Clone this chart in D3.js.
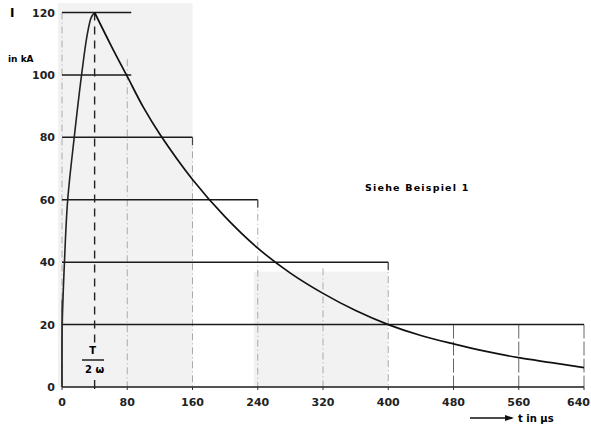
<!DOCTYPE html>
<html><head><meta charset="utf-8">
<script src="https://cdn.jsdelivr.net/npm/d3@7"></script>
<style>body{margin:0;background:#fff}svg{display:block}text{font-family:"DejaVu Sans",sans-serif}</style>
</head><body><svg id="c" width="591" height="424"></svg>
<script>
// ---- data ----
const xTicks = [0, 80, 160, 240, 320, 400, 480, 560, 640];
const yTicks = [0, 20, 40, 60, 80, 100, 120];
const riseX = [0, 0.3, 3, 7, 15, 24, 31, 36, 40];
const riseY = [0, 20, 40, 60, 80, 100, 113, 118.5, 120];
const decayX = [40, 60, 80, 100, 120, 160, 200, 240, 280, 320, 360, 400, 440, 480, 520, 560, 600, 640];
const decayY = [120, 109.5, 99.5, 89.5, 81, 66.5, 54.5, 44.5, 36.5, 30, 24.5, 20, 16.5, 13.8, 11.4, 9.4, 7.8, 6.2];
// horizontal reference lines: level and end (time)
const hLevels = [120, 100, 80, 60, 40, 20, 0];
const hEnds = [80, 80, 160, 240, 400, 640, 640];
// vertical dash-dot lines: time and top level
const vTimes = [0, 80, 160, 240, 320, 400, 480, 560, 640];
const vTops = [120, 105, 80, 60, 38, 40, 20, 20, 20];
// shaded blocks
const shadeX0 = [0, 240];
const shadeX1 = [160, 400];
const shadeTop = [123, 37];
const peakT = 40;

const svg = d3.select("#c");
const x = d3.scaleLinear().domain([0, 640]).range([62, 584]);
const y = d3.scaleLinear().domain([0, 120]).range([387, 12.5]);

// shading
svg.selectAll("rect.sh").data(shadeX0).join("rect")
  .attr("x", (d) => x(d) - 4).attr("width", (d, i) => x(shadeX1[i]) - x(d) + 4)
  .attr("y", (d, i) => y(shadeTop[i])).attr("height", (d, i) => y(0) - y(shadeTop[i]))
  .attr("fill", "#f2f2f2");

// vertical dash-dot lines
svg.selectAll("line.v").data(vTimes).join("line")
  .attr("x1", (d) => x(d)).attr("x2", (d) => x(d))
  .attr("y1", (d, i) => y(vTops[i])).attr("y2", y(0))
  .attr("stroke", (d) => d >= 480 ? "#666" : "#aaa").attr("stroke-width", 1)
  .attr("stroke-dasharray", (d) => d >= 480 ? "14,3" : "7,3,1,3");

// horizontal lines
svg.selectAll("line.h").data(hLevels).join("line")
  .attr("x1", x(0)).attr("x2", (d, i) => x(hEnds[i]) + (hEnds[i] === 80 ? 4 : 0))
  .attr("y1", (d) => y(d)).attr("y2", (d) => y(d))
  .attr("stroke", "#1a1a1a").attr("stroke-width", 1.5);

// end ticks on some horizontal lines
svg.selectAll("line.et").data(hLevels.filter((d, i) => hEnds[i] > 80 && hEnds[i] < 640)).join("line")
  .attr("x1", (d) => x(hEnds[hLevels.indexOf(d)])).attr("x2", (d) => x(hEnds[hLevels.indexOf(d)]))
  .attr("y1", (d) => y(d)).attr("y2", (d) => y(d) + 8)
  .attr("stroke", "#444").attr("stroke-width", 1.2);

// dashed peak line
const labTop = 343, labBot = 376;
svg.append("line").attr("x1", x(peakT)).attr("x2", x(peakT))
  .attr("y1", y(120)).attr("y2", labTop)
  .attr("stroke", "#222").attr("stroke-width", 1.4).attr("stroke-dasharray", "8,6");
svg.append("line").attr("x1", x(peakT)).attr("x2", x(peakT))
  .attr("y1", labBot + 4).attr("y2", y(0) + 2)
  .attr("stroke", "#222").attr("stroke-width", 1.4);

// curve
const line = d3.line().x((d) => x(d[0])).y((d) => y(d[1])).curve(d3.curveCatmullRom.alpha(0.5));
svg.append("path").datum(d3.zip(riseX, riseY)).attr("d", line)
  .attr("fill", "none").attr("stroke", "#222").attr("stroke-width", 1.6);
svg.append("path").datum(d3.zip(decayX, decayY)).attr("d", line)
  .attr("fill", "none").attr("stroke", "#111").attr("stroke-width", 1.7);

// left edge black segment
svg.append("line").attr("x1", x(0)).attr("x2", x(0)).attr("y1", y(0)).attr("y2", y(28))
  .attr("stroke", "#333").attr("stroke-width", 1.2);

// y tick labels
svg.selectAll("text.yt").data(yTicks).join("text")
  .attr("x", 55).attr("y", (d) => y(d) + 4).attr("text-anchor", "end")
  .attr("font-size", 11).attr("font-weight", "bold").attr("fill", "#222").text((d) => d);
// x tick labels
svg.selectAll("text.xt").data(xTicks).join("text")
  .attr("x", (d) => d === 640 ? 590 : x(d)).attr("y", 406)
  .attr("text-anchor", (d) => d === 640 ? "end" : "middle")
  .attr("font-size", 11).attr("font-weight", "bold").attr("fill", "#222").text((d) => d);
// small ticks below axis
svg.selectAll("line.xt").data(xTicks).join("line")
  .attr("x1", (d) => x(d)).attr("x2", (d) => x(d)).attr("y1", y(0)).attr("y2", y(0) + 3)
  .attr("stroke", "#333");

// axis titles
svg.append("text").attr("x", 10).attr("y", 17).attr("font-size", 12).attr("font-weight", "bold").text("I");
svg.append("text").attr("x", 8).attr("y", 62).attr("font-size", 9).attr("font-weight", "bold").text("in kA");
svg.append("line").attr("x1", 470).attr("x2", 512).attr("y1", 418).attr("y2", 418)
  .attr("stroke", "#111").attr("stroke-width", 1.6);
svg.append("path").attr("d", "M505,415 L514,418 L505,421 Z").attr("fill", "#111");
svg.append("text").attr("x", 518).attr("y", 422).attr("font-size", 10).attr("font-weight", "bold").text("t in µs");

// fraction label at peak time
svg.append("text").attr("x", x(peakT) - 2).attr("y", 354).attr("text-anchor", "middle")
  .attr("font-size", 10).attr("font-weight", "bold").text("T");
svg.append("line").attr("x1", 82).attr("x2", 104).attr("y1", 360).attr("y2", 360)
  .attr("stroke", "#111").attr("stroke-width", 1.4);
svg.append("text").attr("x", x(peakT)).attr("y", 373).attr("text-anchor", "middle")
  .attr("font-size", 10).attr("font-weight", "bold").text("2 ω");

// note
svg.append("text").attr("x", 365).attr("y", 191).attr("font-size", 9.5).attr("font-weight", "bold")
  .attr("letter-spacing", 1.2).text("Siehe Beispiel 1");
</script></body></html>
